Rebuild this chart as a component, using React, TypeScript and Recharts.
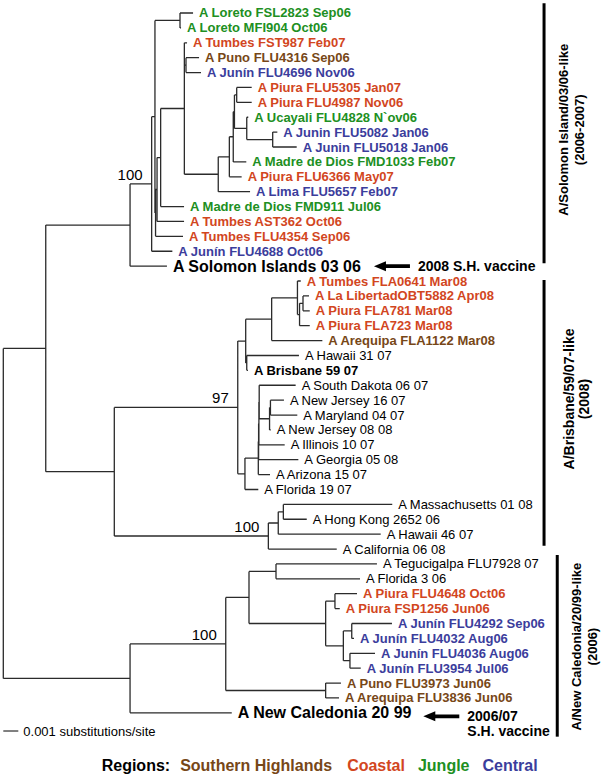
import { ComposedChart, Line, ReferenceLine, Scatter, XAxis, YAxis } from "recharts"

const FONT = "'Liberation Sans', Arial, sans-serif"

// regions: S = Southern Highlands, C = Coastal, J = Jungle, N = Central
const regionColors: Record<string, string> = { S: "#774717", C: "#d2461e", J: "#208f22", N: "#3b3d9c" }
const legendItems = [
  { label: "Southern Highlands", region: "S" },
  { label: "Coastal", region: "C" },
  { label: "Jungle", region: "J" },
  { label: "Central", region: "N" },
]

// internal nodes: id, parent, depth (units of 0.001 substitutions/site)
const nodes: [string, string | null, number][] = [
  ["root", null, 0],
  ["A", "root", 2.83],
  ["S", "A", 8.45],
  ["T", "S", 9.89],
  ["U", "T", 10.11],
  ["LOR", "U", 11.78],
  ["P", "U", 10.15],
  ["N", "P", 10.25],
  ["M", "N", 10.49],
  ["X", "M", 12.07],
  ["Z", "X", 12.18],
  ["Q", "X", 14.33],
  ["R", "Q", 15.07],
  ["S2a", "R", 15.33],
  ["S2b", "S2a", 15.41],
  ["PIU", "S2b", 15.56],
  ["UCA", "S2b", 16.23],
  ["JUN2", "UCA", 17.96],
  ["B", "A", 7.4],
  ["B97", "B", 15.63],
  ["C1", "B97", 16.16],
  ["D", "C1", 17.89],
  ["E", "D", 19.61],
  ["F", "E", 19.75],
  ["G", "F", 19.98],
  ["C2", "C1", 16.23],
  ["H", "B97", 16.11],
  ["I", "H", 17.0],
  ["J", "I", 17.02],
  ["L2", "J", 17.04],
  ["K", "L2", 17.06],
  ["L", "K", 17.75],
  ["L1", "L", 17.81],
  ["MAS", "B", 17.67],
  ["MA2", "MAS", 18.33],
  ["MHK", "MA2", 18.67],
  ["NC", "root", 8.45],
  ["W", "NC", 14.83],
  ["W1", "W", 16.38],
  ["TF", "W1", 18.18],
  ["PJ", "W1", 21.49],
  ["PI2", "PJ", 22.11],
  ["JN", "PJ", 22.67],
  ["J1", "JN", 23.23],
  ["J2", "JN", 23.11],
  ["PA", "W", 21.49],
]

// leaves top to bottom: name, region (R = reference strain, V = vaccine strain), parent, depth
const leaves: [string, string, string, number][] = [
  ["A Loreto FSL2823 Sep06", "J", "LOR", 12.65],
  ["A Loreto MFI904 Oct06", "J", "LOR", 11.85],
  ["A Tumbes FST987 Feb07", "C", "X", 12.25],
  ["A Puno FLU4316 Sep06", "S", "Z", 13.05],
  ["A Junín FLU4696 Nov06", "N", "Z", 13.18],
  ["A Piura FLU5305 Jan07", "C", "PIU", 16.56],
  ["A Piura FLU4987 Nov06", "C", "PIU", 16.56],
  ["A Ucayali FLU4828 N`ov06", "J", "UCA", 16.33],
  ["A Junin FLU5082 Jan06", "N", "JUN2", 18.27],
  ["A Junin FLU5018 Jan06", "N", "JUN2", 19.56],
  ["A Madre de Dios FMD1033 Feb07", "J", "S2a", 16.2],
  ["A Piura FLU6366 May07", "C", "R", 15.89],
  ["A Lima FLU5657 Feb07", "N", "Q", 16.45],
  ["A Madre de Dios FMD911 Jul06", "J", "M", 12.05],
  ["A Tumbes AST362 Oct06", "C", "N", 12.05],
  ["A Tumbes FLU4354 Sep06", "C", "P", 11.98],
  ["A Junín FLU4688 Oct06", "N", "T", 11.27],
  ["A Solomon Islands 03 06", "V", "S", 10.91],
  ["A Tumbes FLA0641 Mar08", "C", "E", 19.83],
  ["A La LibertadOBT5882 Apr08", "C", "G", 20.38],
  ["A Piura FLA781 Mar08", "C", "G", 20.43],
  ["A Piura FLA723 Mar08", "C", "F", 20.43],
  ["A Arequipa FLA1122 Mar08", "S", "D", 21.27],
  ["A Hawaii 31 07", "", "C2", 19.71],
  ["A Brisbane 59 07", "R", "C2", 16.31],
  ["A South Dakota 06 07", "", "K", 19.49],
  ["A New Jersey 16 07", "", "L1", 18.71],
  ["A Maryland 04 07", "", "L1", 19.6],
  ["A New Jersey 08 08", "", "L", 17.83],
  ["A Illinois 10 07", "", "L2", 18.76],
  ["A Georgia 05 08", "", "J", 19.67],
  ["A Arizona 15 07", "", "I", 17.78],
  ["A Florida 19 07", "", "H", 17.0],
  ["A Massachusetts 01 08", "", "MHK", 25.93],
  ["A Hong Kong 2652 06", "", "MHK", 20.23],
  ["A Hawaii 46 07", "", "MA2", 25.16],
  ["A California 06 08", "", "MAS", 22.23],
  ["A Tegucigalpa FLU7928 07", "", "TF", 24.91],
  ["A Florida 3 06", "", "TF", 23.78],
  ["A Piura FLU4648 Oct06", "C", "PI2", 23.58],
  ["A Piura FSP1256 Jun06", "C", "PI2", 22.43],
  ["A Junín FLU4292 Sep06", "N", "J1", 25.91],
  ["A Junín FLU4032 Aug06", "N", "J1", 23.38],
  ["A Junín FLU4036 Aug06", "N", "J2", 24.78],
  ["A Junín FLU3954 Jul06", "N", "J2", 23.83],
  ["A Puno FLU3973 Jun06", "S", "PA", 22.51],
  ["A Arequipa FLU3836 Jun06", "S", "PA", 22.38],
  ["A New Caledonia 20 99", "V", "NC", 15.23],
]

// bootstrap support: node, value
const support: [string, number][] = [
  ["T", 100],
  ["B97", 97],
  ["MAS", 100],
  ["W", 100],
]

// clade brackets on the right: title, period, first row, last row, bar depth, text row
const clades: [string, string, number, number, number, number][] = [
  ["A/Solomon Island/03/06-like", "(2006-2007)", -0.65, 16.81, 36.05, 7.84],
  ["A/Brisbane/59/07-like", "(2008)", 17.93, 35.78, 36.05, 25.92],
  ["A/New Caledonia/20/99-like", "(2006)", 36.4, 48.6, 36.93, 42.55],
]

// vaccine arrows: leaf row, arrow tip depth, caption lines
const vaccines: [number, number, string[]][] = [
  [17, 24.71, ["2008 S.H. vaccine"]],
  [47, 28.0, ["2006/07", "S.H. vaccine"]],
]

// ---- layout: internal node rows from children ----
const depthOf: Record<string, number> = {}
nodes.forEach(([id, , d]) => {
  depthOf[id] = d
})
const rowOf: Record<string, number> = {}
const childRows: Record<string, number[]> = {}
leaves.forEach(([, , p], i) => {
  ;(childRows[p] = childRows[p] || []).push(i)
})
function nodeRow(id: string): number {
  if (rowOf[id] !== undefined) return rowOf[id]
  const rows = [...(childRows[id] || [])]
  nodes.forEach(([cid, p]) => {
    if (p === id) rows.push(nodeRow(cid))
  })
  rowOf[id] = (Math.min(...rows) + Math.max(...rows)) / 2
  return rowOf[id]
}
nodes.forEach(([id]) => nodeRow(id))

type Pt = { x: number; y: number | null }
const branches: Pt[] = []
nodes.forEach(([id, p, d]) => {
  const rows = [...(childRows[id] || [])]
  nodes.forEach(([cid, cp]) => {
    if (cp === id) rows.push(rowOf[cid])
  })
  branches.push({ x: d, y: Math.min(...rows) }, { x: d, y: Math.max(...rows) }, { x: d, y: null })
  if (p) branches.push({ x: depthOf[p], y: rowOf[id] }, { x: d, y: rowOf[id] }, { x: d, y: null })
})
leaves.forEach(([, , p, d], i) => {
  branches.push({ x: depthOf[p], y: i }, { x: d, y: i }, { x: d, y: null })
})

const tipData = leaves.map(([name, region, , d], i) => ({ x: d, y: i, name, region }))
const supportData = support.map(([id, v]) => ({ x: depthOf[id], y: rowOf[id], value: v }))
const cladeData = clades.map(([title, period, , , x, row]) => ({ x, y: row, title, period }))
const vaccineData = vaccines.map(([row, x, lines]) => ({ x, y: row, lines }))

function TipLabel(props: any) {
  const { cx, cy, payload } = props
  const r = payload.region
  const big = r === "V"
  const bold = r !== ""
  return (
    <text
      x={cx + 6}
      y={cy + (big ? 5.5 : 4.5)}
      fontFamily={FONT}
      fontSize={big ? 16 : 13}
      fontWeight={bold ? "bold" : "normal"}
      fill={regionColors[r] || "#000"}
    >
      {payload.name}
    </text>
  )
}

function SupportLabel(props: any) {
  const { cx, cy, payload } = props
  return (
    <text x={cx - 9} y={cy - 4} textAnchor="end" fontFamily={FONT} fontSize={15} fill="#000">
      {payload.value}
    </text>
  )
}

function CladeLabel(props: any) {
  const { cx, cy, payload } = props
  const small = payload.title.length > 24
  const d1 = small ? 19.5 : 25
  const d2 = small ? 35.5 : 40
  const fs = small ? 13 : 14
  return (
    <g fontFamily={FONT} fontWeight="bold" fontSize={fs} fill="#000">
      <text x={cx + d1} y={cy} textAnchor="middle" dominantBaseline="central" transform={`rotate(-90 ${cx + d1} ${cy})`}>
        {payload.title}
      </text>
      <text x={cx + d2} y={cy} textAnchor="middle" dominantBaseline="central" transform={`rotate(-90 ${cx + d2} ${cy})`}>
        {payload.period}
      </text>
    </g>
  )
}

function VaccineArrow(props: any) {
  const { cx, cy, payload } = props
  const y = cy + (payload.lines.length > 1 ? 3.5 : 0)
  return (
    <g>
      <polygon
        points={`${cx},${y} ${cx + 12},${y - 5} ${cx + 12},${y - 1.8} ${cx + 36},${y - 1.8} ${cx + 36},${y + 1.8} ${cx + 12},${y + 1.8} ${cx + 12},${y + 5}`}
        fill="#000"
      />
      {payload.lines.map((t: string, i: number) => (
        <text key={t} x={cx + 44} y={y + 5 + i * 15} fontFamily={FONT} fontWeight="bold" fontSize={14} fill="#000">
          {t}
        </text>
      ))}
    </g>
  )
}

export default function App() {
  return (
    <div style={{ position: "absolute", left: 0, top: 0, width: 603, height: 778, background: "#fff" }}>
      <ComposedChart width={603} height={778} margin={{ top: 0, right: 0, bottom: 0, left: 0 }}>
        <XAxis type="number" dataKey="x" domain={[-0.22, 39.98]} allowDataOverflow hide />
        <YAxis type="number" dataKey="y" domain={[-0.873, 51.376]} allowDataOverflow reversed hide />
        <Line
          data={branches}
          dataKey="y"
          type="linear"
          stroke="#2b2b2b"
          strokeWidth={1.3}
          dot={false}
          activeDot={false}
          connectNulls={false}
          isAnimationActive={false}
        />
        <Scatter data={tipData} shape={TipLabel} isAnimationActive={false} />
        <Scatter data={supportData} shape={SupportLabel} isAnimationActive={false} />
        <Scatter data={cladeData} shape={CladeLabel} isAnimationActive={false} />
        <Scatter data={vaccineData} shape={VaccineArrow} isAnimationActive={false} />
        {clades.map(([title, , from, to, x]) => (
          <ReferenceLine
            key={title}
            segment={[
              { x, y: from },
              { x, y: to },
            ]}
            stroke="#000"
            strokeWidth={3}
          />
        ))}
        <ReferenceLine
          segment={[
            { x: 0, y: 48.22 },
            { x: 1, y: 48.22 },
          ]}
          stroke="#2b2b2b"
          strokeWidth={1.2}
          label={{ value: "0.001 substitutions/site", position: "right", offset: 5, fontSize: 13, fill: "#000", fontFamily: FONT }}
        />
      </ComposedChart>
      <div
        style={{
          position: "absolute",
          left: 101.7,
          top: 755.5,
          lineHeight: "20px",
          fontFamily: FONT,
          fontSize: 16,
          fontWeight: "bold",
          whiteSpace: "nowrap",
        }}
      >
        <span style={{ color: "#000" }}>Regions:</span>
        {legendItems.map((it, i) => (
          <span key={it.label} style={{ color: regionColors[it.region], marginLeft: i === 0 ? 10 : i === 1 ? 15 : 13 }}>
            {it.label}
          </span>
        ))}
      </div>
    </div>
  )
}
